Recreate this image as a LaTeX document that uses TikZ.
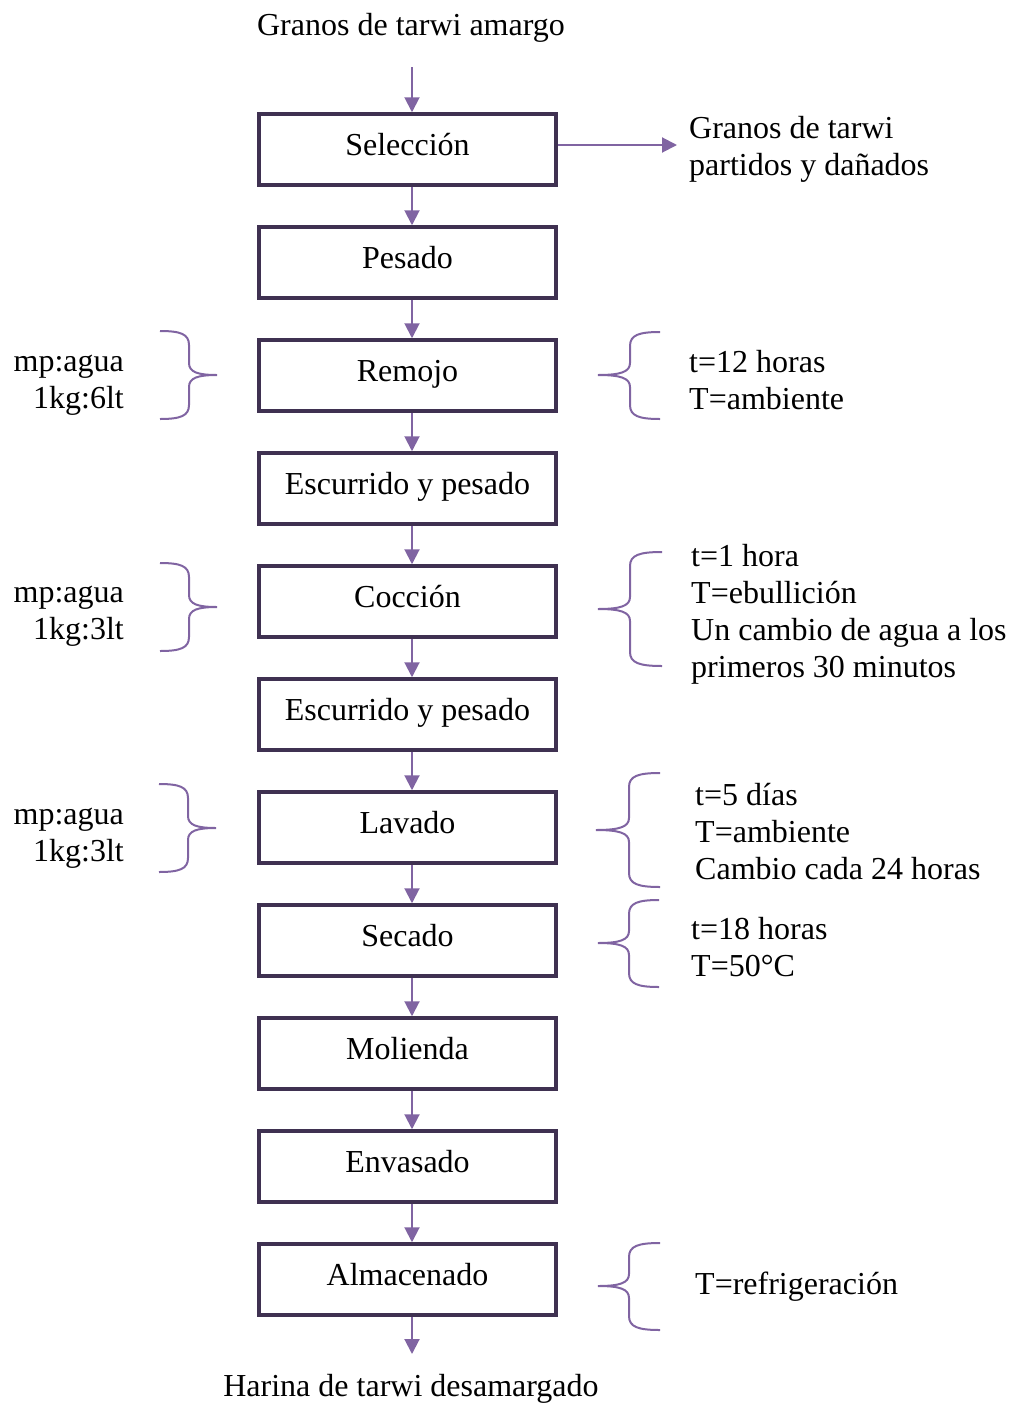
\documentclass[tikz,border=0pt]{standalone}
\usepackage{fontspec}
\setmainfont{Liberation Serif}
\usetikzlibrary{arrows.meta}
\definecolor{boxc}{HTML}{3F3151}
\definecolor{arrc}{HTML}{8064A2}
\newcommand{\mybrace}[6]{\draw[brc] (#3,#4) .. controls ({#2+0.3*(#3-#2)},#4) and (#2,{#4+3}) .. (#2,{#4+14}) -- (#2,{#5-12}) .. controls (#2,{#5-3}) and ({#2+0.3*(#1-#2)},#5) .. (#1,#5) .. controls ({#2+0.3*(#1-#2)},#5) and (#2,{#5+3}) .. (#2,{#5+12}) -- (#2,{#6-14}) .. controls (#2,{#6-3}) and ({#2+0.3*(#3-#2)},#6) .. (#3,#6);}
\begin{document}
\begin{tikzpicture}[x=1pt,y=-1pt,
  txt/.style={font=\fontsize{32}{37}\selectfont, inner sep=0pt},
  stepbox/.style={txt, draw=boxc, line width=3.5pt, minimum width=297pt, minimum height=71pt, text height=22pt, text depth=10pt},
  arr/.style={draw=arrc, line width=2pt, -{Triangle[length=15pt,width=15pt]}},
  brc/.style={draw=arrc, line width=2pt}]
\useasboundingbox (0,0) rectangle (1016,1403);
% process boxes
\foreach \i/\t in {1/Selección,2/Pesado,3/Remojo,4/Escurrido y pesado,5/Cocción,6/Escurrido y pesado,7/Lavado,8/Secado,9/Molienda,10/Envasado,11/Almacenado}{
  \node[stepbox] (b\i) at (407.5,{149.5+113*(\i-1)}) {\t};
}
% vertical arrows
\foreach \i [evaluate=\i as \j using int(\i+1)] in {1,...,10}{
  \draw[arr] ([xshift=4.5pt]b\i.south) -- ([xshift=4.5pt]b\j.north);
}
% input / output
\node[txt, anchor=base] (inp) at (411,35) {Granos de tarwi amargo};
\coordinate (inarr) at (412,67);
\draw[arr] (inarr) -- ([xshift=4.5pt]b1.north);
\coordinate (outarr) at (412,1354);
\draw[arr] ([xshift=4.5pt]b11.south) -- (outarr);
\node[txt, anchor=base] (outp) at (411,1396) {Harina de tarwi desamargado};
% side output
\coordinate (sidearr) at (677,145);
\draw[arr] ([yshift=4.5pt]b1.east) -- (sidearr);
\node[txt, anchor=base west] (waste) at (689,138) {\begin{tabular}[t]{@{}l@{}}Granos de tarwi\\partidos y dañados\end{tabular}};
% left annotations
\node[txt, anchor=base east] (l3) at (124,371) {\begin{tabular}[t]{@{}r@{}}mp:agua\\1kg:6lt\end{tabular}};
\node[txt, anchor=base east] (l5) at (124,602) {\begin{tabular}[t]{@{}r@{}}mp:agua\\1kg:3lt\end{tabular}};
\node[txt, anchor=base east] (l7) at (124,824) {\begin{tabular}[t]{@{}r@{}}mp:agua\\1kg:3lt\end{tabular}};
\mybrace{217}{189}{160}{331}{375}{419}
\mybrace{217}{189}{160}{563}{607}{651}
\mybrace{216}{188}{159}{784}{828}{872}
% right annotations
\mybrace{598}{630}{660}{332}{375}{419}
\mybrace{598}{630}{662}{552}{609}{666}
\mybrace{596}{629}{660}{773}{830}{887}
\mybrace{598}{629}{659}{900}{943}{987}
\mybrace{598}{629}{660}{1243}{1286}{1330}
\node[txt, anchor=base west] (r3) at (689,372) {\begin{tabular}[t]{@{}l@{}}t=12 horas\\T=ambiente\end{tabular}};
\node[txt, anchor=base west] (r5) at (691,566) {\begin{tabular}[t]{@{}l@{}}t=1 hora\\T=ebullición\\Un cambio de agua a los\\primeros 30 minutos\end{tabular}};
\node[txt, anchor=base west] (r7) at (695,805) {\begin{tabular}[t]{@{}l@{}}t=5 días\\T=ambiente\\Cambio cada 24 horas\end{tabular}};
\node[txt, anchor=base west] (r8) at (691,939) {\begin{tabular}[t]{@{}l@{}}t=18 horas\\T=50°C\end{tabular}};
\node[txt, anchor=base west] (r11) at (695,1294) {T=refrigeración};
\end{tikzpicture}
\end{document}
